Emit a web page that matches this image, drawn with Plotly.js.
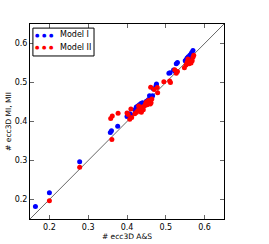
<!DOCTYPE html>
<html><head><meta charset="utf-8">
<script src="https://cdn.plot.ly/plotly-3.0.1.min.js"></script>
<style>html,body{margin:0;padding:0;background:#fff;}#chart{width:269px;height:244px;}</style>
</head><body><div id="chart"></div>
<script>
const model1X = [0.164,0.200,0.278,0.357,0.360,0.376,0.400,0.404,0.407,0.410,0.420,0.424,0.428,0.432,0.436,0.440,0.450,0.455,0.458,0.460,0.462,0.466,0.468,0.475,0.476,0.508,0.511,0.520,0.524,0.527,0.530,0.550,0.553,0.555,0.558,0.560,0.562,0.565,0.567,0.570];
const model1Y = [0.182,0.217,0.297,0.372,0.376,0.388,0.413,0.415,0.420,0.417,0.430,0.437,0.440,0.443,0.446,0.448,0.452,0.456,0.466,0.460,0.463,0.466,0.484,0.492,0.496,0.524,0.525,0.532,0.529,0.548,0.551,0.556,0.559,0.563,0.566,0.562,0.570,0.573,0.577,0.582];
const model2X = [0.200,0.278,0.358,0.362,0.361,0.377,0.400,0.403,0.407,0.410,0.412,0.420,0.424,0.428,0.430,0.432,0.435,0.437,0.440,0.442,0.445,0.448,0.450,0.452,0.455,0.457,0.460,0.462,0.464,0.461,0.470,0.478,0.479,0.495,0.510,0.512,0.523,0.527,0.530,0.548,0.552,0.555,0.557,0.560,0.562,0.565,0.568,0.570,0.572];
const model2Y = [0.197,0.283,0.408,0.414,0.354,0.421,0.422,0.418,0.406,0.432,0.410,0.420,0.423,0.428,0.440,0.426,0.432,0.424,0.437,0.430,0.440,0.446,0.450,0.443,0.454,0.446,0.445,0.448,0.458,0.488,0.482,0.487,0.474,0.502,0.504,0.500,0.533,0.524,0.528,0.538,0.545,0.552,0.560,0.548,0.555,0.550,0.556,0.565,0.570];
const diagonal = [0.15, 0.65];
const tickVals = [0.2, 0.3, 0.4, 0.5, 0.6];
const tickText = ['0.2', '0.3', '0.4', '0.5', '0.6'];
const seriesNames = ['Model I', 'Model II'];
const seriesColors = ['#0000ff', '#ff0000'];

const font = 'DejaVu Sans, sans-serif';
const traces = [
  {x: diagonal, y: diagonal, mode: 'lines', type: 'scatter', showlegend: false,
   line: {color: '#666666', width: 1}, hoverinfo: 'skip'},
  {x: model1X, y: model1Y, mode: 'markers', type: 'scatter', name: seriesNames[0],
   marker: {color: seriesColors[0], size: 5}},
  {x: model2X, y: model2Y, mode: 'markers', type: 'scatter', name: seriesNames[1],
   marker: {color: seriesColors[1], size: 5}}
];
const axisCommon = {
  range: diagonal, tickvals: tickVals, ticktext: tickText,
  ticks: 'inside', ticklen: 4, tickcolor: '#000', tickwidth: 0.6,
  showline: true, linecolor: '#000', linewidth: 1, mirror: 'allticks',
  showgrid: false, zeroline: false, automargin: false,
  tickfont: {family: font, size: 8, color: '#000'}
};
// hand-built legend (matplotlib style, three scatter points per entry)
const legendRows = [0.944, 0.882];
const legendDotX = [0.041, 0.075, 0.109];
const annotations = [];
seriesNames.forEach((name, i) => {
  legendDotX.forEach(dx => annotations.push({xref: 'paper', yref: 'paper', x: dx, y: legendRows[i],
    xanchor: 'center', yanchor: 'middle', showarrow: false,
    text: '\u25CF', font: {family: font, size: 5, color: seriesColors[i]}}));
  annotations.push({xref: 'paper', yref: 'paper', x: 0.142, y: legendRows[i],
    xanchor: 'left', yanchor: 'middle', showarrow: false,
    text: name, font: {family: font, size: 8, color: '#000'}});
});
const layout = {
  width: 269, height: 244,
  margin: {l: 30, r: 45, t: 24, b: 25},
  paper_bgcolor: '#fff', plot_bgcolor: '#fff',
  showlegend: false,
  xaxis: Object.assign({}, axisCommon, {title: {text: '# ecc3D A&S', font: {family: font, size: 7.5, color: '#000'}, standoff: 2}}),
  yaxis: Object.assign({}, axisCommon, {title: {text: '# ecc3D MI, MII', font: {family: font, size: 7.5, color: '#000'}, standoff: 2}}),
  shapes: [{type: 'rect', xref: 'paper', yref: 'paper', x0: 0.015, x1: 0.33, y0: 0.836, y1: 0.979,
    line: {color: '#000', width: 1}, fillcolor: '#fff', layer: 'above'}],
  annotations: annotations
};
Plotly.newPlot('chart', traces, layout, {staticPlot: true, displayModeBar: false});
</script></body></html>
